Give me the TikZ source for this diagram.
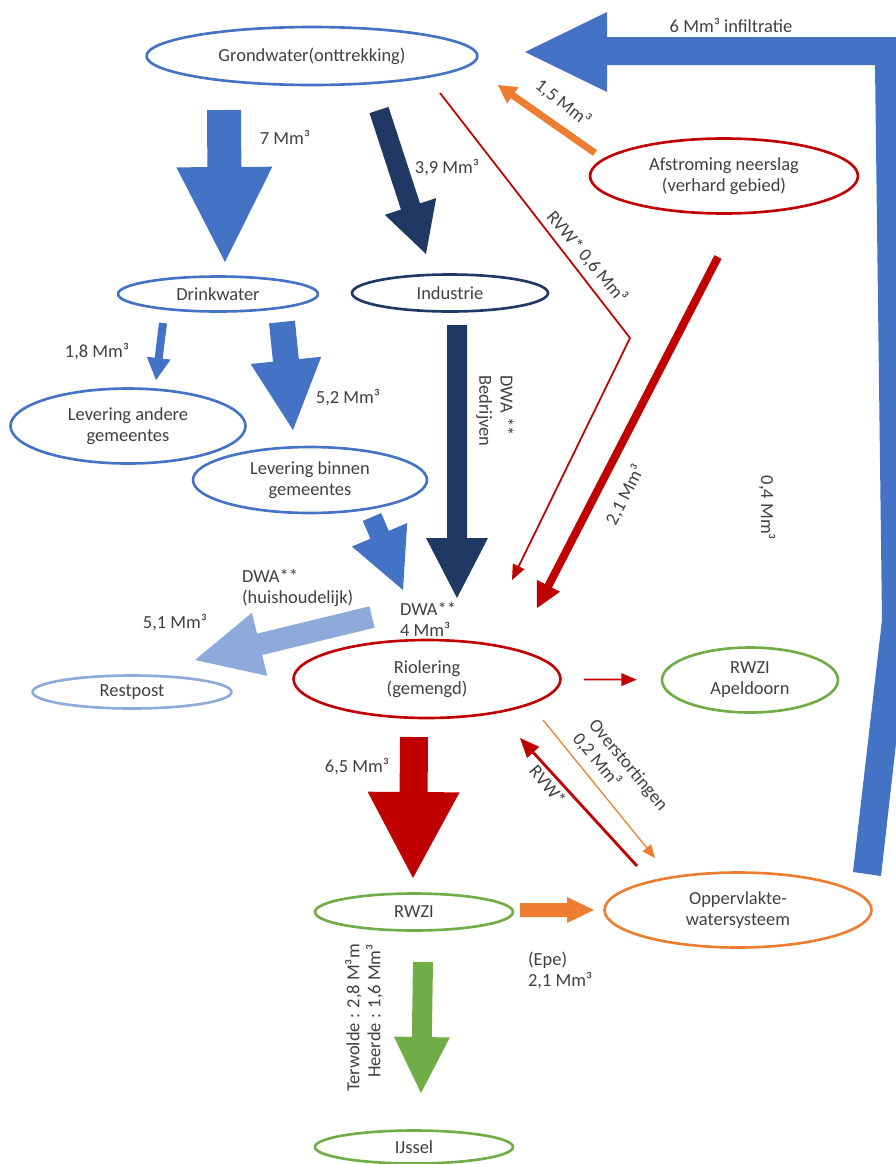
\documentclass[tikz,border=0pt]{standalone}
\usepackage{fontspec}
\setmainfont{Carlito}
\usepackage{tikz}
\usetikzlibrary{arrows,calc,shapes.geometric}
\definecolor{flowblue}{RGB}{68,114,196}
\definecolor{flownavy}{RGB}{31,56,100}
\definecolor{flowlight}{RGB}{142,170,219}
\definecolor{flowred}{RGB}{192,0,0}
\definecolor{floworange}{RGB}{237,125,49}
\definecolor{flowgreen}{RGB}{112,173,71}
\definecolor{txtgrey}{RGB}{64,64,64}
\tikzset{
  pool/.style={ellipse,draw=#1,line width=1.5pt,inner sep=0pt,align=center,text=txtgrey},
  lbl/.style={text=txtgrey,inner sep=1pt,align=center}
}
\newcommand{\flowarrow}[6]{%
  \coordinate (fa-h) at ($(#2)!#5!(#1)$);
  \fill[#6] ($(#1)!#3!-90:(#2)$) -- ($(fa-h)!#3!90:(#1)$) -- ($(fa-h)!#4!90:(#1)$) -- (#2)
    -- ($(fa-h)!#4!-90:(#1)$) -- ($(fa-h)!#3!-90:(#1)$) -- ($(#1)!#3!90:(#2)$) -- cycle;
}
\begin{document}
\begin{tikzpicture}[x=0.02cm,y=-0.02cm,line join=round,>=triangle 45,font=\fontsize{10.5}{12}\selectfont]
\clip (0,0) rectangle (896,1164);
\fill[flowblue] (525,52) -- (607,12) -- (607,37) -- (910,37) -- (910,620) -- (881,876) -- (853,872) -- (882,620) -- (875,65) -- (607,65) -- (607,92) -- cycle;
\node[pool=flowblue,minimum width=6.62cm,minimum height=1.16cm] (grond) at (312,56) {Grondwater(onttrekking)};
\node[pool=flowred,minimum width=5.36cm,minimum height=1.5cm] (afstr) at (724,176) {Afstroming neerslag\\(verhard gebied)};
\node[pool=flowblue,minimum width=4cm,minimum height=0.7cm] (drink) at (218,294) {Drinkwater};
\node[pool=flownavy,minimum width=3.92cm,minimum height=0.74cm] (indus) at (450,293) {Industrie};
\node[pool=flowblue,minimum width=4.7cm,minimum height=1.5cm] (levand) at (128,426) {Levering andere\\gemeentes};
\node[pool=flowblue,minimum width=4.68cm,minimum height=1.32cm] (levbin) at (310,480) {Levering binnen\\gemeentes};
\node[pool=flowlight,minimum width=3.98cm,minimum height=0.66cm] (restp) at (132,692) {Restpost};
\node[pool=flowred,minimum width=5.34cm,minimum height=1.56cm] (riol) at (427,679) {Riolering\\(gemengd)};
\node[pool=flowgreen,minimum width=3.52cm,minimum height=1.3cm] (rwziap) at (750,680) {RWZI\\Apeldoorn};
\node[pool=flowgreen,minimum width=3.96cm,minimum height=0.74cm] (rwzi) at (414,912) {RWZI};
\node[pool=floworange,minimum width=5.34cm,minimum height=1.5cm] (opp) at (738,910) {Oppervlakte-\\watersysteem};
\node[pool=flowgreen,minimum width=3.96cm,minimum height=0.66cm] (ijssel) at (414,1147) {IJssel};
\coordinate (drink-a) at (224,110);
\coordinate (drink-b) at (225,262);
\coordinate (indus-a) at (379,110);
\coordinate (indus-b) at (426,254);
\coordinate (levand-a) at (163,323);
\coordinate (levand-b) at (156,380);
\coordinate (levbin-a) at (282,322);
\coordinate (levbin-b) at (293,430);
\coordinate (bedr-a) at (457,325);
\coordinate (bedr-b) at (457,598);
\coordinate (huish-a) at (372,517);
\coordinate (huish-b) at (403,590);
\coordinate (rest-a) at (372,617);
\coordinate (rest-b) at (195,660);
\coordinate (zuiv-a) at (414,737);
\coordinate (zuiv-b) at (413,878);
\coordinate (epe-a) at (520,910);
\coordinate (epe-b) at (594,910);
\coordinate (ijssel-a) at (423,962);
\coordinate (ijssel-b) at (421,1093);
\coordinate (afgr-a) at (595,153);
\coordinate (afgr-b) at (498,85);
\coordinate (afriol-a) at (718,257);
\coordinate (afriol-b) at (537,608);
\coordinate (rvw-a) at (440,93);
\coordinate (rvw-m) at (630,338);
\coordinate (rvw-b) at (512,580);
\coordinate (overst-a) at (543,720);
\coordinate (overst-b) at (655,858);
\coordinate (terug-a) at (637,866);
\coordinate (terug-b) at (520,738);
\flowarrow{drink-a}{drink-b}{0.34cm}{0.96cm}{1.9cm}{flowblue}
\flowarrow{indus-a}{indus-b}{0.2cm}{0.54cm}{1cm}{flownavy}
\flowarrow{levand-a}{levand-b}{0.08cm}{0.24cm}{0.44cm}{flowblue}
\flowarrow{levbin-a}{levbin-b}{0.26cm}{0.71cm}{1.4cm}{flowblue}
\flowarrow{bedr-a}{bedr-b}{0.2cm}{0.62cm}{1.2cm}{flownavy}
\flowarrow{huish-a}{huish-b}{0.2cm}{0.6cm}{1.2cm}{flowblue}
\flowarrow{rest-a}{rest-b}{0.22cm}{0.65cm}{1.33cm}{flowlight}
\flowarrow{zuiv-a}{zuiv-b}{0.28cm}{0.92cm}{1.72cm}{flowred}
\flowarrow{epe-a}{epe-b}{0.14cm}{0.26cm}{0.54cm}{floworange}
\flowarrow{ijssel-a}{ijssel-b}{0.2cm}{0.56cm}{1.12cm}{flowgreen}
\flowarrow{afgr-a}{afgr-b}{0.07cm}{0.2cm}{0.36cm}{floworange}
\flowarrow{afriol-a}{afriol-b}{0.08cm}{0.26cm}{0.5cm}{flowred}
\draw[flowred,line width=1pt,->] (rvw-a) -- (rvw-m) -- (rvw-b);
\draw[floworange,line width=0.7pt,->] (overst-a) -- (overst-b);
\draw[flowred,line width=1.6pt,->] (terug-a) -- (terug-b);
\draw[flowred,line width=1pt,->,shorten <=0.44cm,shorten >=0.48cm] (riol) -- (rwziap);
\node[lbl] (t-infil) at (731,25) {6 Mm³ infiltratie};
\node[lbl] (t-7) at (285,137) {7 Mm³};
\node[lbl] (t-39) at (447,168) {3,9 Mm³};
\node[lbl,rotate=-38] (t-15) at (563,103) {1,5 Mm³};
\node[lbl,rotate=-50] (t-rvw06) at (587,257) {RVW* 0,6 Mm³};
\node[lbl] (t-18) at (97,352) {1,8 Mm³};
\node[lbl] (t-52) at (348,398) {5,2 Mm³};
\node[lbl,rotate=-90,align=left] (t-bedr) at (495,411) {DWA **\\Bedrijven};
\node[lbl,rotate=63] (t-21) at (625,495) {2,1 Mm³};
\node[lbl,rotate=-90] (t-04) at (767,508) {0,4 Mm³};
\node[lbl,anchor=west,align=left] (t-huish) at (240,588) {DWA**\\(huishoudelijk)};
\node[lbl] (t-51) at (175,623) {5,1 Mm³};
\node[lbl,anchor=west,align=left] (t-dwa4) at (398,619) {DWA**\\4 Mm³};
\node[lbl] (t-65) at (357,767) {6,5 Mm³};
\node[lbl,rotate=-50,align=left] (t-overst) at (620,772) {Overstortingen\\0,2 Mm³};
\node[lbl,rotate=-50] (t-rvw) at (548,785) {RVW*};
\node[lbl,anchor=west,align=left] (t-epe) at (526,970) {(Epe)\\2,1 Mm³};
\node[lbl,rotate=90,align=right] (t-terw) at (364,1018) {Terwolde : 2,8 M³m\\Heerde : 1,6 Mm³};
\end{tikzpicture}
\end{document}
